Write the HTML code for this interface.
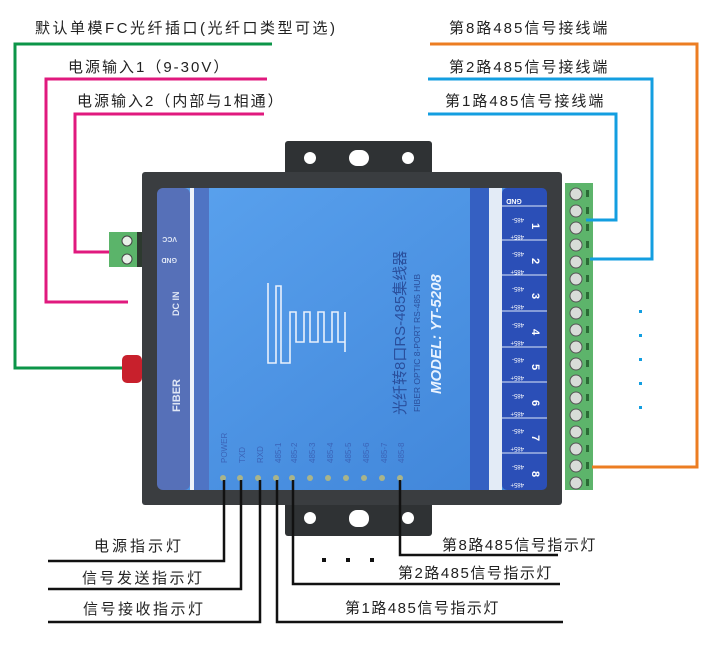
<!DOCTYPE html>
<html><head><meta charset="utf-8"><style>
html,body{margin:0;padding:0;background:#fff;}
svg{display:block;}
text{font-family:"Liberation Sans","Noto Sans CJK SC",sans-serif;}
</style></head><body>
<svg width="710" height="650" viewBox="0 0 710 650" xmlns="http://www.w3.org/2000/svg">
<defs>
<linearGradient id="bl" x1="0" y1="0" x2="1" y2="1">
<stop offset="0" stop-color="#5aa2ee"/><stop offset="1" stop-color="#3f84d8"/></linearGradient>
</defs>
<rect x="285" y="141" width="147" height="34" rx="3" fill="#2f3234"/>
<circle cx="310" cy="158" r="6" fill="#fff"/><circle cx="408" cy="158" r="6" fill="#fff"/>
<rect x="349" y="150" width="20" height="16" rx="8" fill="#fff"/>
<rect x="285" y="500" width="147" height="36" rx="3" fill="#2f3234"/>
<circle cx="310" cy="518" r="6" fill="#fff"/><circle cx="408" cy="518" r="6" fill="#fff"/>
<rect x="349" y="510" width="20" height="17" rx="8" fill="#fff"/>
<rect x="142" y="172" width="420" height="333" rx="3" fill="#3a3d40"/>
<rect x="157" y="188" width="390" height="302" rx="8" fill="url(#bl)"/>
<rect x="157" y="188" width="33" height="302" rx="6" fill="#5670b8"/>
<rect x="190" y="188" width="4" height="302" fill="#eef3fb"/>
<rect x="194" y="188" width="15" height="302" fill="#4f74c4"/>
<rect x="470" y="188" width="19" height="302" fill="#3560c2"/>
<rect x="489" y="188" width="13" height="302" fill="#e3ebf6"/>
<rect x="502" y="188" width="45" height="302" rx="5" fill="#2b4fb7"/>
<g stroke="#dfe8fa" stroke-width="1">
<line x1="502" y1="206" x2="547" y2="206"/><line x1="502" y1="240" x2="547" y2="240"/><line x1="502" y1="275" x2="547" y2="275"/><line x1="502" y1="311" x2="547" y2="311"/><line x1="502" y1="347" x2="547" y2="347"/><line x1="502" y1="382" x2="547" y2="382"/><line x1="502" y1="418" x2="547" y2="418"/><line x1="502" y1="453" x2="547" y2="453"/></g>
<g fill="#fff" font-size="11" font-weight="bold">
<text transform="translate(514,199) rotate(180)" text-anchor="middle" font-size="7">GND</text>
<text transform="translate(532,223) rotate(90)">1</text>
<text transform="translate(532,258) rotate(90)">2</text>
<text transform="translate(532,293) rotate(90)">3</text>
<text transform="translate(532,329) rotate(90)">4</text>
<text transform="translate(532,364) rotate(90)">5</text>
<text transform="translate(532,400) rotate(90)">6</text>
<text transform="translate(532,435) rotate(90)">7</text>
<text transform="translate(532,471) rotate(90)">8</text>
</g>
<g fill="#fff" font-size="6">
<text transform="translate(524,218) rotate(180)">485-</text><text transform="translate(524,235) rotate(180)">485+</text>
<text transform="translate(524,252) rotate(180)">485-</text><text transform="translate(524,270) rotate(180)">485+</text>
<text transform="translate(524,287) rotate(180)">485-</text><text transform="translate(524,305) rotate(180)">485+</text>
<text transform="translate(524,323) rotate(180)">485-</text><text transform="translate(524,341) rotate(180)">485+</text>
<text transform="translate(524,358) rotate(180)">485-</text><text transform="translate(524,376) rotate(180)">485+</text>
<text transform="translate(524,394) rotate(180)">485-</text><text transform="translate(524,412) rotate(180)">485+</text>
<text transform="translate(524,429) rotate(180)">485-</text><text transform="translate(524,447) rotate(180)">485+</text>
<text transform="translate(524,465) rotate(180)">485-</text><text transform="translate(524,483) rotate(180)">485+</text>
</g>
<g fill="#dfe6f5" font-size="7" font-weight="bold">
<text transform="translate(177,237) rotate(180)">VCC</text>
<text transform="translate(177,258) rotate(180)">GND</text>
<text transform="translate(179,316) rotate(-90)" font-size="9">DC IN</text>
<text transform="translate(180,412) rotate(-90)" font-size="11">FIBER</text>
</g>
<path d="M268 283 V363 H276 V286 H281 V363 H290 V312 H296 V342 H304 V312 H310 V342 H318 V312 H324 V342 H332 V312 H338 V342 H345 V312 V352" fill="none" stroke="#e8f0fc" stroke-width="1.6"/>
<text transform="translate(405,415) rotate(-90)" fill="#2a4f9c" font-size="15" font-family="Liberation Serif,Noto Serif CJK SC,serif">光纤转8口RS-485集线器</text>
<text transform="translate(420,412) rotate(-90)" fill="#2a4f9c" font-size="8.5">FIBER OPTIC  8-PORT RS-485 HUB</text>
<text transform="translate(441,394) rotate(-90)" fill="#e8f2ff" font-size="15" font-weight="bold" font-style="italic">MODEL: YT-5208</text>
<g fill="#3b64b8" font-size="8">
<text transform="translate(227,463) rotate(-90)">POWER</text>
<text transform="translate(245,463) rotate(-90)">TXD</text>
<text transform="translate(263,463) rotate(-90)">RXD</text>
<text transform="translate(281,463) rotate(-90)">485-1</text>
<text transform="translate(297,463) rotate(-90)">485-2</text>
<text transform="translate(315,463) rotate(-90)">485-3</text>
<text transform="translate(333,463) rotate(-90)">485-4</text>
<text transform="translate(351,463) rotate(-90)">485-5</text>
<text transform="translate(369,463) rotate(-90)">485-6</text>
<text transform="translate(387,463) rotate(-90)">485-7</text>
<text transform="translate(404,463) rotate(-90)">485-8</text>
</g>
<g fill="#a9b48a">
<circle cx="223" cy="478" r="3"/><circle cx="240" cy="478" r="3"/><circle cx="258" cy="478" r="3"/><circle cx="276" cy="478" r="3"/><circle cx="292" cy="478" r="3"/><circle cx="310" cy="478" r="3"/><circle cx="328" cy="478" r="3"/><circle cx="346" cy="478" r="3"/><circle cx="364" cy="478" r="3"/><circle cx="382" cy="478" r="3"/><circle cx="400" cy="478" r="3"/>
</g>
<rect x="109" y="232" width="28" height="35" fill="#5bb46a"/>
<circle cx="127" cy="241" r="5" fill="#e8f0e8" stroke="#444"/><circle cx="127" cy="259" r="5" fill="#e8f0e8" stroke="#444"/>
<rect x="137" y="232" width="5" height="35" fill="#2d3a2f"/>
<rect x="122" y="355" width="20" height="28" rx="5" fill="#c8202c"/>
<rect x="565" y="183" width="28" height="307" fill="#5db46b"/>
<g fill="#d8dcd8" stroke="#555" stroke-width="1">
<circle cx="576" cy="194" r="6"/><circle cx="576" cy="211" r="6"/><circle cx="576" cy="228" r="6"/><circle cx="576" cy="245" r="6"/><circle cx="576" cy="262" r="6"/><circle cx="576" cy="279" r="6"/><circle cx="576" cy="296" r="6"/><circle cx="576" cy="313" r="6"/><circle cx="576" cy="330" r="6"/><circle cx="576" cy="347" r="6"/><circle cx="576" cy="364" r="6"/><circle cx="576" cy="381" r="6"/><circle cx="576" cy="398" r="6"/><circle cx="576" cy="415" r="6"/><circle cx="576" cy="432" r="6"/><circle cx="576" cy="449" r="6"/><circle cx="576" cy="466" r="6"/><circle cx="576" cy="483" r="6"/>
</g>
<g fill="#2a6b35"><rect x="586" y="190" width="3" height="7"/><rect x="586" y="207" width="3" height="7"/><rect x="586" y="224" width="3" height="7"/><rect x="586" y="241" width="3" height="7"/><rect x="586" y="258" width="3" height="7"/><rect x="586" y="275" width="3" height="7"/><rect x="586" y="292" width="3" height="7"/><rect x="586" y="309" width="3" height="7"/><rect x="586" y="326" width="3" height="7"/><rect x="586" y="343" width="3" height="7"/><rect x="586" y="360" width="3" height="7"/><rect x="586" y="377" width="3" height="7"/><rect x="586" y="394" width="3" height="7"/><rect x="586" y="411" width="3" height="7"/><rect x="586" y="428" width="3" height="7"/><rect x="586" y="445" width="3" height="7"/><rect x="586" y="462" width="3" height="7"/><rect x="586" y="479" width="3" height="7"/></g>
<g fill="none" stroke-width="3">
<polyline points="272,44 15,44 15,368 122,368" stroke="#0c9548"/>
<polyline points="267,79 46,79 46,302 128,302" stroke="#e0197e"/>
<polyline points="264,114 75,114 75,252 109,252" stroke="#e0197e"/>
<polyline points="430,44 697,44 697,467 592,467" stroke="#ec7d22"/>
<polyline points="428,79 652,79 652,259 590,259" stroke="#139ee0"/>
<polyline points="428,114 616,114 616,220 586,220" stroke="#139ee0"/>
</g>
<g fill="#139ee0"><rect x="639" y="310" width="3" height="3"/><rect x="639" y="334" width="3" height="3"/><rect x="639" y="358" width="3" height="3"/><rect x="639" y="382" width="3" height="3"/><rect x="639" y="406" width="3" height="3"/></g>
<g fill="none" stroke="#111" stroke-width="2.5">
<polyline points="224,480 224,561 48,561"/>
<polyline points="241,480 241,589 48,589"/>
<polyline points="260,480 260,622 48,622"/>
<polyline points="277,480 277,622 563,622"/>
<polyline points="293,480 293,584 560,584"/>
<polyline points="400,480 400,555 558,555"/>
</g>
<g fill="#111"><rect x="322" y="558" width="4" height="4"/><rect x="346" y="558" width="4" height="4"/><rect x="370" y="558" width="4" height="4"/></g>
<g fill="#222" font-size="15">
<text x="35" y="33" letter-spacing="2.5">默认单模FC光纤插口(光纤口类型可选)</text>
<text x="68" y="72" letter-spacing="2">电源输入1（9-30V）</text>
<text x="77" y="106" letter-spacing="2">电源输入2（内部与1相通）</text>
<text x="449" y="33" letter-spacing="2">第8路485信号接线端</text>
<text x="449" y="72" letter-spacing="2">第2路485信号接线端</text>
<text x="445" y="106" letter-spacing="2">第1路485信号接线端</text>
<text x="94" y="551" letter-spacing="3">电源指示灯</text>
<text x="82" y="583" letter-spacing="2.5">信号发送指示灯</text>
<text x="83" y="614" letter-spacing="2.5">信号接收指示灯</text>
<text x="442" y="550" letter-spacing="1.5">第8路485信号指示灯</text>
<text x="398" y="578" letter-spacing="1.5">第2路485信号指示灯</text>
<text x="345" y="613" letter-spacing="1.5">第1路485信号指示灯</text>
</g>
</svg>
</body></html>
